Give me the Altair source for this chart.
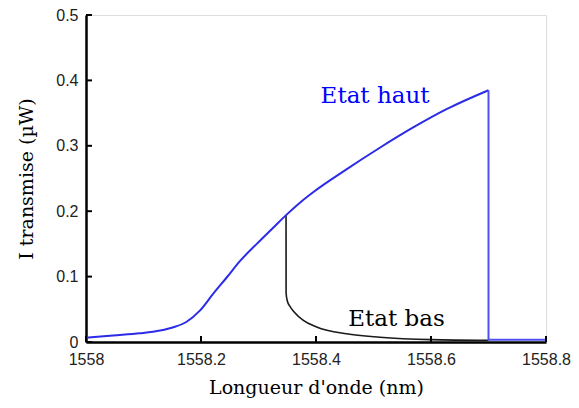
import altair as alt
import pandas as pd

# Etat haut (blue) branch: rising curve, then the drop and the flat tail
haut_x = [1558.0, 1558.047, 1558.094, 1558.129, 1558.152, 1558.175, 1558.198, 1558.221,
          1558.245, 1558.268, 1558.297, 1558.326, 1558.348, 1558.372, 1558.395, 1558.453,
          1558.511, 1558.569, 1558.627, 1558.70]
haut_y = [0.0065, 0.010, 0.0134, 0.0176, 0.0226, 0.031, 0.048, 0.0735,
          0.099, 0.124, 0.150, 0.175, 0.194, 0.213, 0.229, 0.264,
          0.297, 0.328, 0.356, 0.385]
drop_x = [1558.70, 1558.70, 1558.80]
drop_y = [0.385, 0.0034, 0.0034]

# Etat bas (black) branch
bas_x = [1558.3479, 1558.348, 1558.350, 1558.355, 1558.362, 1558.378, 1558.401, 1558.453,
         1558.511, 1558.600, 1558.700]
bas_y = [0.194, 0.075, 0.063, 0.054, 0.046, 0.033, 0.023, 0.0125,
         0.0073, 0.0036, 0.0025]

x_ticks = [1558.0, 1558.2, 1558.4, 1558.6, 1558.8]
y_ticks = [0.0, 0.1, 0.2, 0.3, 0.4, 0.5]

labels = ["Etat haut", "Etat bas"]
label_x = [1558.408, 1558.456]
label_y = [0.365, 0.025]
label_color = ["#0000ff", "#000000"]

W, H = 460, 327
BLUE = "#2b2be8"

haut = pd.DataFrame({"x": haut_x, "y": haut_y, "i": range(len(haut_x))})
drop = pd.DataFrame({"x": drop_x, "y": drop_y, "i": range(len(drop_x))})
bas = pd.DataFrame({"x": bas_x, "y": bas_y, "i": range(len(bas_x))})
lab = pd.DataFrame({"x": label_x, "y": label_y, "t": labels, "c": label_color})
xt = pd.DataFrame({"x": x_ticks})
yt = pd.DataFrame({"y": y_ticks})

xscale = alt.Scale(domain=[1558.0, 1558.8], nice=False, zero=False)
yscale = alt.Scale(domain=[0, 0.5], nice=False)

xaxis = alt.Axis(values=x_ticks, labelExpr="datum.value == 1558 ? '1558' : format(datum.value, '.1f')",
                 tickSize=0, grid=False, title="Longueur d'onde (nm)", labelFlush=False,
                 labelFont="Liberation Sans", labelFontSize=16, labelColor="#222222",
                 labelPadding=9, titleFont="DejaVu Serif", titleFontSize=19,
                 titleFontWeight="normal", titleColor="#000000", titlePadding=11,
                 domainColor="#000000", domainWidth=2.5)
yaxis = alt.Axis(values=y_ticks, labelExpr="datum.value == 0 ? '0' : format(datum.value, '.1f')",
                 tickSize=0, grid=False, title="I transmise (µW)", labelFlush=False,
                 labelFont="Liberation Sans", labelFontSize=16, labelColor="#222222",
                 labelPadding=8, titleFont="DejaVu Serif", titleFontSize=19,
                 titleFontWeight="normal", titleColor="#000000", titlePadding=19,
                 domainColor="#000000", domainWidth=2.5)

bas_line = alt.Chart(bas).mark_line(color="#1a1a1a", strokeWidth=1.6, interpolate="monotone").encode(
    x=alt.X("x:Q", scale=xscale, axis=xaxis),
    y=alt.Y("y:Q", scale=yscale, axis=yaxis),
    order="i:Q",
)
haut_line = alt.Chart(haut).mark_line(color=BLUE, strokeWidth=2, interpolate="monotone").encode(
    x=alt.X("x:Q", scale=xscale),
    y=alt.Y("y:Q", scale=yscale),
    order="i:Q",
)
drop_line = alt.Chart(drop).mark_line(color="#5050f0", strokeWidth=2, interpolate="linear").encode(
    x=alt.X("x:Q", scale=xscale),
    y=alt.Y("y:Q", scale=yscale),
    order="i:Q",
)
text = alt.Chart(lab).mark_text(align="left", baseline="alphabetic", font="DejaVu Serif",
                                fontSize=23).encode(
    x=alt.X("x:Q", scale=xscale),
    y=alt.Y("y:Q", scale=yscale),
    text="t:N",
    color=alt.Color("c:N", scale=None),
)
xtick = alt.Chart(xt).mark_rule(color="#000000", strokeWidth=2).encode(
    x=alt.X("x:Q", scale=xscale),
    y=alt.value(H),
    y2=alt.value(H - 6),
)
ytick = alt.Chart(yt).mark_rule(color="#000000", strokeWidth=2).encode(
    y=alt.Y("y:Q", scale=yscale),
    x=alt.value(0),
    x2=alt.value(6),
)

chart = alt.layer(bas_line, haut_line, drop_line, text, xtick, ytick).properties(
    width=W, height=H,
    padding={"left": 78, "top": 7, "right": 25, "bottom": 58},
    autosize=alt.AutoSizeParams(type="none"),
).configure_view(stroke=None).configure(background="#ffffff")

chart.save("out.html", embed_options={"renderer": "svg", "actions": False})
